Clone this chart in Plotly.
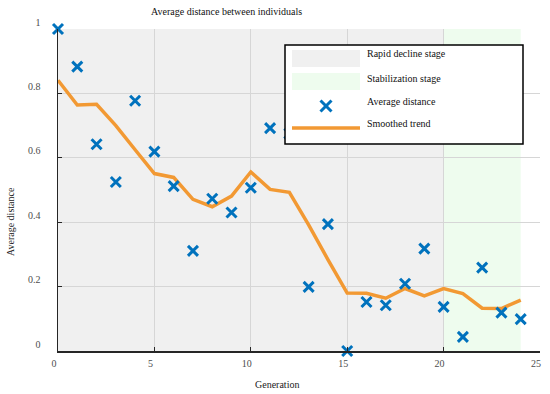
import plotly.graph_objects as go

# ---------------- data ----------------
generations = list(range(25))
avg_distance = [1.00, 0.883, 0.642, 0.525, 0.777, 0.619, 0.512, 0.311, 0.473, 0.430,
                0.507, 0.692, 0.675, 0.199, 0.394, 0.000, 0.152, 0.142, 0.209, 0.318,
                0.137, 0.044, 0.259, 0.119, 0.099]
smoothed = [0.841, 0.764, 0.766, 0.700, 0.625, 0.551, 0.539, 0.471, 0.448, 0.481,
            0.556, 0.502, 0.493, 0.392, 0.284, 0.180, 0.179, 0.164, 0.194, 0.171,
            0.194, 0.178, 0.133, 0.132, 0.158]
stage_names = ["Rapid decline stage", "Stabilization stage"]
stage_start = [0, 20]
stage_end = [20, 24]
stage_colors = ["#F0F0F0", "#EEFCEE"]
x_ticks = [0, 5, 10, 15, 20, 25]
y_ticks = [0, 0.2, 0.4, 0.6, 0.8, 1]
y_tick_text = ["0", "0.2", "0.4", "0.6", "0.8", "1"]

BLUE = "#0072BD"
ORANGE = "#F29933"
FONT = "Liberation Serif, Times New Roman, DejaVu Serif, serif"

W, H = 550, 394
ML, MR, MT, MB = 58, 10, 29, 43
PW, PH = W - ML - MR, H - MT - MB


def PX(px):
    return (px - ML) / PW


def PY(py):
    return (H - MB - py) / PH


fig = go.Figure()

fig.add_trace(go.Scatter(
    x=generations, y=smoothed, mode="lines",
    line=dict(color=ORANGE, width=3.5), name="Smoothed trend",
    showlegend=False, cliponaxis=False, hoverinfo="skip"))
fig.add_trace(go.Scatter(
    x=generations, y=avg_distance, mode="markers",
    marker=dict(symbol="x-thin", size=10, color=BLUE, line=dict(color=BLUE, width=3)),
    name="Average distance", showlegend=False, cliponaxis=False, hoverinfo="skip"))

shapes = []
for s0, s1, c in zip(stage_start, stage_end, stage_colors):
    shapes.append(dict(type="rect", xref="x", yref="y", x0=s0, x1=s1, y0=0, y1=1,
                       fillcolor=c, line=dict(width=0), layer="below"))

# manual legend
shapes.append(dict(type="rect", xref="paper", yref="paper",
                   x0=PX(285), x1=PX(523), y0=PY(144), y1=PY(45),
                   fillcolor="white", line=dict(color="black", width=1.5), layer="above"))
shapes.append(dict(type="rect", xref="paper", yref="paper",
                   x0=PX(292), x1=PX(360), y0=PY(67), y1=PY(50),
                   fillcolor=stage_colors[0], line=dict(width=0), layer="above"))
shapes.append(dict(type="rect", xref="paper", yref="paper",
                   x0=PX(292), x1=PX(360), y0=PY(90), y1=PY(73),
                   fillcolor=stage_colors[1], line=dict(width=0), layer="above"))
cx, cy, r = 326, 106, 5.5
shapes.append(dict(type="line", xref="paper", yref="paper",
                   x0=PX(cx - r), x1=PX(cx + r), y0=PY(cy - r), y1=PY(cy + r),
                   line=dict(color=BLUE, width=3), layer="above"))
shapes.append(dict(type="line", xref="paper", yref="paper",
                   x0=PX(cx - r), x1=PX(cx + r), y0=PY(cy + r), y1=PY(cy - r),
                   line=dict(color=BLUE, width=3), layer="above"))
shapes.append(dict(type="line", xref="paper", yref="paper",
                   x0=PX(292), x1=PX(360), y0=PY(128), y1=PY(128),
                   line=dict(color=ORANGE, width=3.5), layer="above"))

legend_labels = stage_names + ["Average distance", "Smoothed trend"]
legend_rows = [54, 78, 101, 124]
annotations = []
for lab, ry in zip(legend_labels, legend_rows):
    annotations.append(dict(text=lab, xref="paper", yref="paper", x=PX(365), y=PY(ry),
                            xanchor="left", yanchor="middle", showarrow=False,
                            font=dict(family=FONT, size=10, color="#111111")))

annotations.append(dict(text="Average distance between individuals", xref="paper", yref="paper",
                        x=PX(226), y=PY(11), xanchor="center", yanchor="middle",
                        showarrow=False, font=dict(family=FONT, size=10, color="#111111")))
annotations.append(dict(text="Generation", xref="paper", yref="paper",
                        x=PX(277), y=PY(384), xanchor="center", yanchor="middle",
                        showarrow=False, font=dict(family=FONT, size=10, color="#222222")))
annotations.append(dict(text="Average distance", xref="paper", yref="paper",
                        x=PX(10), y=PY(222), xanchor="center", yanchor="middle", textangle=-90,
                        showarrow=False, font=dict(family=FONT, size=10, color="#222222")))

axis_common = dict(showgrid=True, gridcolor="#D6D6D6", gridwidth=1, showline=True,
                   linecolor="#262626", linewidth=1.5, ticks="inside", ticklen=4,
                   tickcolor="#262626", zeroline=False,
                   tickfont=dict(family=FONT, size=10, color="#4D4D4D"))

fig.update_layout(
    width=W, height=H, margin=dict(l=ML, r=MR, t=MT, b=MB),
    paper_bgcolor="white", plot_bgcolor="white",
    font=dict(family=FONT),
    xaxis=dict(range=[0, 25], tickvals=x_ticks, ticklabelshift=-4, ticklabelstandoff=2,
               **axis_common),
    yaxis=dict(range=[0, 1], tickvals=y_ticks, ticktext=y_tick_text, ticklabelshift=-7,
               ticklabelstandoff=14, **axis_common),
    shapes=shapes, annotations=annotations, showlegend=False, hovermode=False,
)

fig.write_html("out.html", config={"displayModeBar": False, "staticPlot": True},
               post_script="document.body.style.margin='0';")
